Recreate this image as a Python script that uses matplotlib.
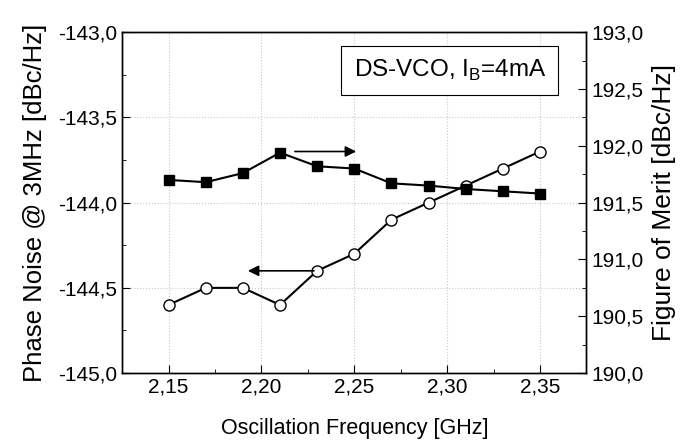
import matplotlib
matplotlib.use("Agg")
import matplotlib.pyplot as plt
from matplotlib.ticker import MultipleLocator, FuncFormatter

plt.rcParams["font.family"] = ["Liberation Sans", "DejaVu Sans"]

# data
freq = [2.15, 2.17, 2.19, 2.21, 2.23, 2.25, 2.27, 2.29, 2.31, 2.33, 2.35]
phase_noise = [-144.60, -144.50, -144.50, -144.60, -144.40, -144.30,
               -144.10, -144.00, -143.90, -143.80, -143.70]
fom = [191.70, 191.68, 191.76, 191.94, 191.82, 191.80,
       191.67, 191.65, 191.62, 191.60, 191.58]

comma = lambda fmt: FuncFormatter(lambda v, p: (fmt % v).replace(".", ","))

fig = plt.figure(figsize=(6.94, 4.41), dpi=100)
ax = fig.add_axes([0.176, 0.154, 0.669, 0.773])
ax2 = ax.twinx()

ax.plot(freq, phase_noise, "-o", color="black", lw=1.5, ms=8,
        mfc="white", mec="black", mew=1.0, zorder=3)
ax2.plot(freq, fom, "-s", color="black", lw=1.5, ms=7,
         mfc="black", mec="black", zorder=3)

ax.set_xlim(2.125, 2.375)
ax.set_ylim(-145.0, -143.0)
ax2.set_ylim(190.0, 193.0)

ax.xaxis.set_major_locator(MultipleLocator(0.05))
ax.xaxis.set_minor_locator(MultipleLocator(0.025))
ax.yaxis.set_major_locator(MultipleLocator(0.5))
ax.yaxis.set_minor_locator(MultipleLocator(0.25))
ax2.yaxis.set_major_locator(MultipleLocator(0.5))
ax2.yaxis.set_minor_locator(MultipleLocator(0.25))

ax.xaxis.set_major_formatter(comma("%.2f"))
ax.yaxis.set_major_formatter(comma("%.1f"))
ax2.yaxis.set_major_formatter(comma("%.1f"))

ax.tick_params(which="both", direction="in", labelsize=15, top=False)
ax.tick_params(which="major", length=6)
ax.tick_params(which="minor", length=3)
ax2.tick_params(which="both", direction="in", labelsize=15)
ax2.tick_params(which="major", length=6)
ax2.tick_params(which="minor", length=3)

ax.grid(True, which="major", ls=":", color="#c8c8c8", lw=0.8)

ax.set_xlabel("Oscillation Frequency [GHz]", fontsize=15.5, labelpad=15)
ax.set_ylabel("Phase Noise @ 3MHz [dBc/Hz]", fontsize=18.5, labelpad=8)
ax2.set_ylabel("Figure of Merit [dBc/Hz]", fontsize=19, labelpad=6)

for a in (ax, ax2):
    for s in a.spines.values():
        s.set_linewidth(1.0)

# arrows pointing to the relevant axis
ax.annotate("", xy=(2.2525, -143.70), xytext=(2.2165, -143.70),
            arrowprops=dict(arrowstyle="-|>", color="black", lw=1.2,
                            mutation_scale=16))
ax.annotate("", xy=(2.1912, -144.40), xytext=(2.2298, -144.40),
            arrowprops=dict(arrowstyle="-|>", color="black", lw=1.2,
                            mutation_scale=16))

ax.text(2.3015, -143.226, r"DS-VCO, I$_\mathregular{B}$=4mA", fontsize=17.5,
        ha="center", va="center", zorder=5,
        bbox=dict(boxstyle="square,pad=0.5", fc="white", ec="black", lw=0.8))

fig.savefig("out.png", dpi=100)
